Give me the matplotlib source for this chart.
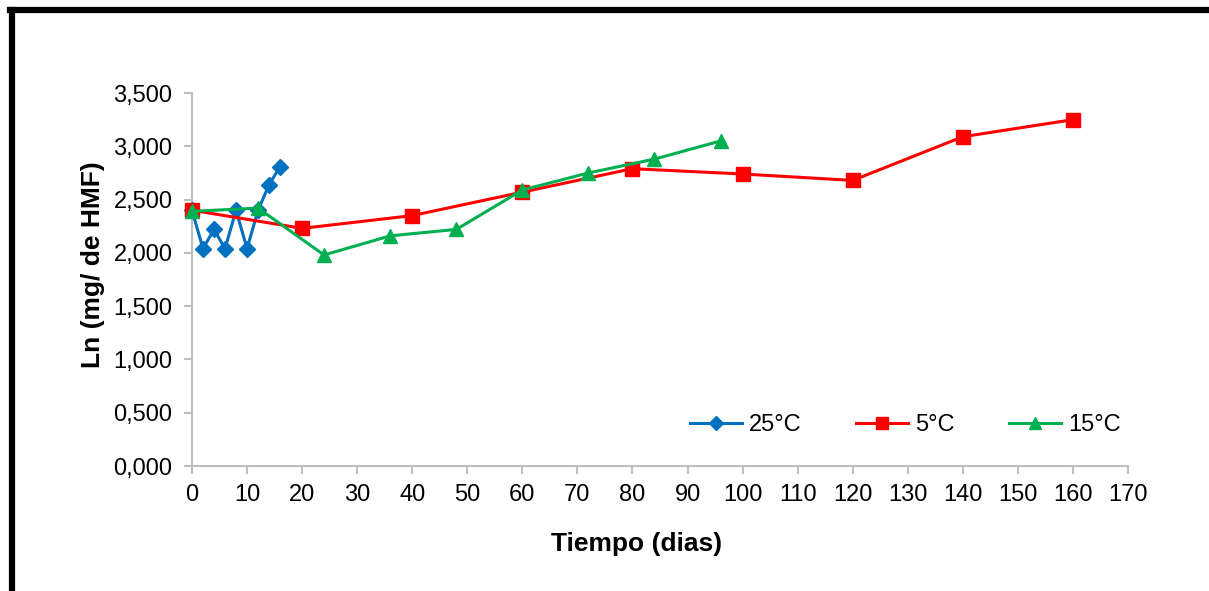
import matplotlib.pyplot as plt
from matplotlib.lines import Line2D
from matplotlib.ticker import FuncFormatter

# Data
dias_25 = [0, 2, 4, 6, 8, 10, 12, 14, 16]
ln_25 = [2.40, 2.04, 2.22, 2.04, 2.40, 2.04, 2.40, 2.64, 2.81]

dias_5 = [0, 20, 40, 60, 80, 100, 120, 140, 160]
ln_5 = [2.40, 2.23, 2.35, 2.57, 2.79, 2.74, 2.68, 3.09, 3.25]

dias_15 = [0, 12, 24, 36, 48, 60, 72, 84, 96]
ln_15 = [2.39, 2.42, 1.98, 2.16, 2.22, 2.59, 2.75, 2.88, 3.05]

x_ticks = list(range(0, 171, 10))
y_ticks = [0, 0.5, 1.0, 1.5, 2.0, 2.5, 3.0, 3.5]

plt.rcParams["font.family"] = ["Liberation Sans", "DejaVu Sans"]

fig = plt.figure(figsize=(12.09, 5.91), dpi=100)
ax = fig.add_axes([0.1588, 0.2115, 0.7742, 0.6311])

ax.plot(dias_25, ln_25, color="#0070C0", marker="D", markersize=8, lw=2.2,
        label="25°C", clip_on=False, zorder=3)
ax.plot(dias_5, ln_5, color="#FF0000", marker="s", markersize=10, lw=2.2,
        label="5°C", clip_on=False, zorder=3)
ax.plot(dias_15, ln_15, color="#00B050", marker="^", markersize=10, lw=2.2,
        label="15°C", clip_on=False, zorder=3)

ax.set_xlim(0, 170)
ax.set_ylim(0, 3.5)
ax.set_xticks(x_ticks)
ax.set_yticks(y_ticks)
ax.yaxis.set_major_formatter(FuncFormatter(lambda v, p: f"{v:.3f}".replace(".", ",")))

for s in ["top", "right"]:
    ax.spines[s].set_visible(False)
for s in ["left", "bottom"]:
    ax.spines[s].set_color("#BFBFBF")
    ax.spines[s].set_linewidth(1.5)
ax.tick_params(axis="both", colors="#BFBFBF", length=6, width=1.5, labelsize=17, labelcolor="black")
ax.tick_params(axis="y", pad=8)
ax.tick_params(axis="x", pad=7)

ax.set_xlabel("Tiempo (dias)", fontsize=19, fontweight="bold")
ax.set_ylabel("Ln (mg/ de HMF)", fontsize=19, fontweight="bold")
ax.xaxis.set_label_coords(0.4754, -0.177)
ax.yaxis.set_label_coords(-0.093, 0.539)

ax.legend(loc="center left", bbox_to_anchor=(0.532, 0.11), ncol=3, frameon=False,
          borderpad=0, borderaxespad=0, fontsize=17, handlelength=2.2,
          columnspacing=2.3, handletextpad=0.3, markerscale=0.85)

# black frame on top and left edges
fig.add_artist(Line2D([0.0085, 1.0], [0.983, 0.983], color="black", lw=4.5, transform=fig.transFigure))
fig.add_artist(Line2D([0.0103, 0.0103], [0.0, 0.983], color="black", lw=4.5, transform=fig.transFigure))

fig.savefig("out.png", dpi=100)
